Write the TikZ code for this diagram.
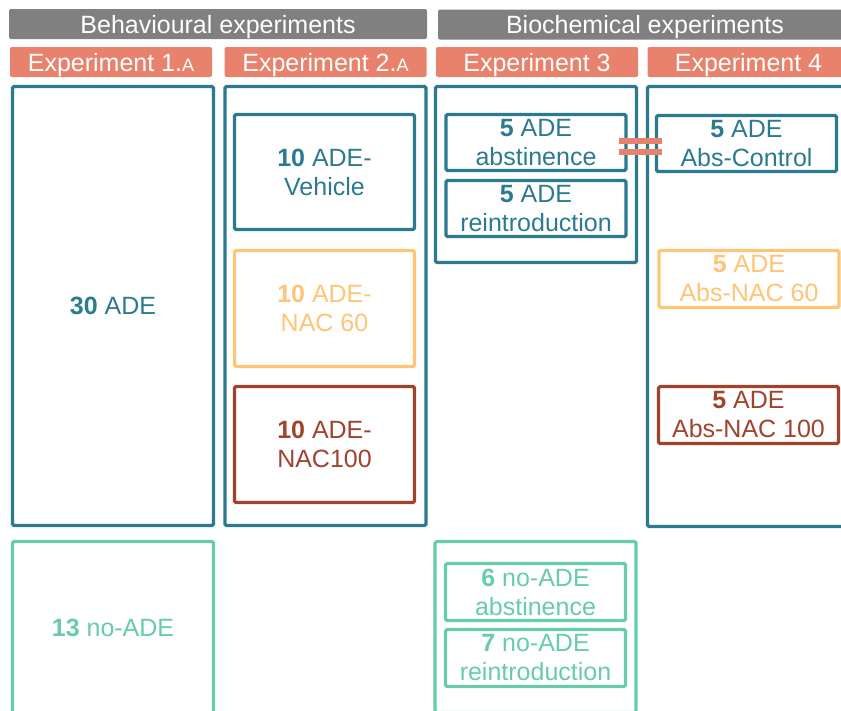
\documentclass[tikz,border=0pt]{standalone}
\usepackage{fontspec}
\setmainfont{Liberation Sans}
\usetikzlibrary{positioning}
\definecolor{adeteal}{RGB}{43,122,143}
\definecolor{noade}{RGB}{102,204,170}
\definecolor{nacsixty}{RGB}{255,196,118}
\definecolor{nachundred}{RGB}{160,67,45}
\definecolor{expsalmon}{RGB}{232,130,108}
\definecolor{headgray}{RGB}{128,128,128}
\newcommand{\txtsize}{\fontsize{25}{29}\selectfont}
\newcommand{\smallA}{{\fontsize{18}{20}\selectfont A}}
\tikzset{
    header/.style={rectangle, rounded corners=2pt, fill=headgray, text=white, minimum height=30pt, inner sep=0pt, text height=18pt, text depth=0pt, font=\txtsize},
    expbar/.style={rectangle, rounded corners=2pt, fill=expsalmon, text=white, minimum height=30pt, minimum width=202pt, inner sep=0pt, text height=18pt, text depth=0pt, font=\txtsize},
    group/.style={rectangle, rounded corners=1.5pt, line width=3.2pt, inner sep=0pt, align=center, draw=#1, text=#1, font=\txtsize},
    bigbox/.style={minimum width=201pt},
    cohort/.style={minimum width=180pt, minimum height=57pt},
    equal/.style={line width=6pt, expsalmon, shorten <=-9pt, shorten >=-7pt}
}

\begin{document}
\begin{tikzpicture}[x=1pt, y=-1pt]
    \path[use as bounding box, clip] (0,0) rectangle (841,710);
    % headers
    \node (behav) [header, minimum width=418pt] at (218,24) {Behavioural experiments};
    \node (biochem) [header, minimum width=414pt] at (645,24.5) {Biochemical experiments};
    \node (exp1) [expbar] at (111,62) {Experiment 1.\smallA};
    \node (exp2) [expbar] at (325.5,62) {Experiment 2.\smallA};
    \node (exp3) [expbar] at (537,62) {Experiment 3};
    \node (exp4) [expbar] at (748.5,62) {Experiment 4};

    % experiment 1
    \node (ade1) [group=adeteal, bigbox, minimum height=439pt] at (113,306) {\textbf{30} ADE};
    \node (noade1) [group=noade, bigbox, minimum height=173pt] at (113,628) {\textbf{13} no-ADE};

    % experiment 2
    \node (ade2) [group=adeteal, bigbox, minimum height=439pt] at (325.5,306) {};
    \node (vehicle) [group=adeteal, cohort, minimum height=115pt] at (324.5,172) {\textbf{10} ADE-\\Vehicle};
    \node (nac60) [group=nacsixty, cohort, minimum height=116pt] at (324.5,308.5) {\textbf{10} ADE-\\NAC 60};
    \node (nac100) [group=nachundred, cohort, minimum height=116pt] at (324.5,444.5) {\textbf{10} ADE-\\NAC100};

    % experiment 3
    \node (ade3) [group=adeteal, bigbox, minimum height=176pt] at (536,174.5) {};
    \node (abst3) [group=adeteal, cohort, minimum height=56pt] at (536,142.5) {\textbf{5} ADE\\abstinence};
    \node (reint3) [group=adeteal, cohort, minimum height=56pt] at (536,208.5) {\textbf{5} ADE\\reintroduction};
    \node (noade3) [group=noade, bigbox, minimum height=171pt] at (535.5,627) {};
    \node (noabst3) [group=noade, cohort] at (535.5,592) {\textbf{6} no-ADE\\abstinence};
    \node (noreint3) [group=noade, cohort] at (535.5,658) {\textbf{7} no-ADE\\reintroduction};

    % experiment 4
    \node (ade4) [group=adeteal, bigbox, minimum height=440pt] at (748,306.5) {};
    \node (ctrl4) [group=adeteal, cohort, minimum height=56pt] at (746.5,143.5) {\textbf{5} ADE\\Abs-Control};
    \node (nac60b) [group=nacsixty, cohort] at (749,279) {\textbf{5} ADE\\Abs-NAC 60};
    \node (nac100b) [group=nachundred, cohort] at (748.5,415) {\textbf{5} ADE\\Abs-NAC 100};

    \draw [equal] ([yshift=1.5pt]abst3.east) -- ([yshift=1.5pt]abst3.east -| ctrl4.west);
    \draw [equal] ([yshift=-9.5pt]abst3.east) -- ([yshift=-9.5pt]abst3.east -| ctrl4.west);
\end{tikzpicture}
\end{document}
